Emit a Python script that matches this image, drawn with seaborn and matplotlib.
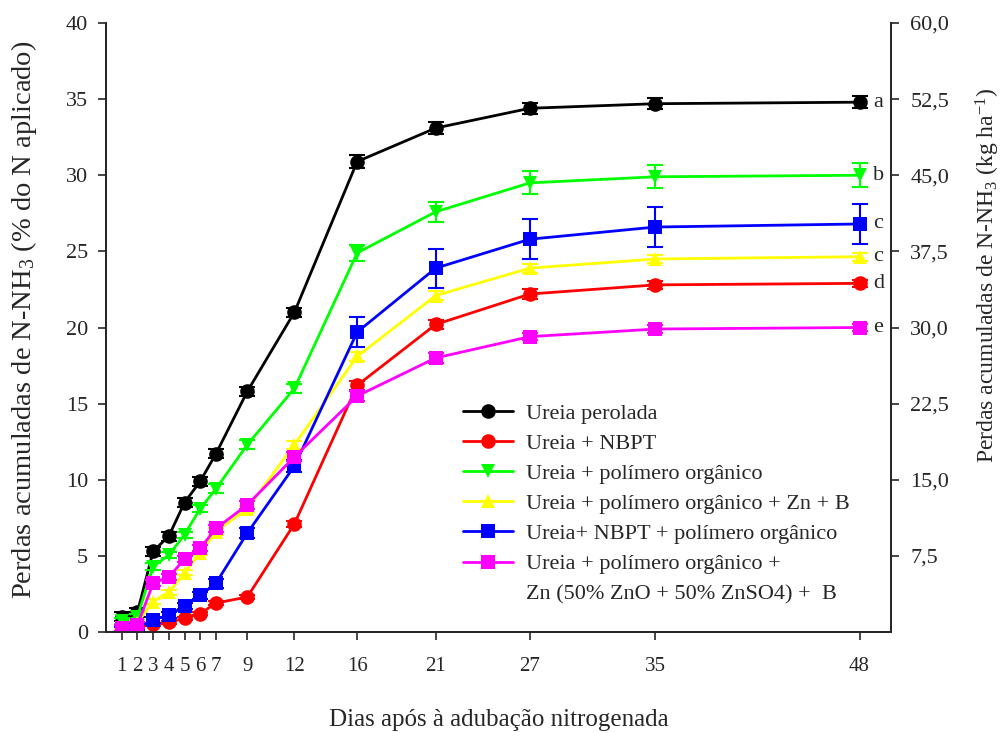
import matplotlib
matplotlib.use("Agg")
import matplotlib.pyplot as plt
import seaborn as sns
import pandas as pd
import numpy as np

# ---------------- data ----------------
days = [1, 2, 3, 4, 5, 6, 7, 9, 12, 16, 21, 27, 35, 48]

perolada = [1.0, 1.3, 5.3, 6.3, 8.5, 9.9, 11.7, 15.8, 21.0, 30.9, 33.1, 34.4, 34.7, 34.8]
perolada_err = [0.3, 0.3, 0.3, 0.3, 0.3, 0.3, 0.3, 0.3, 0.3, 0.45, 0.4, 0.35, 0.35, 0.4]

nbpt = [0.15, 0.4, 0.5, 0.65, 0.9, 1.2, 1.9, 2.3, 7.1, 16.2, 20.2, 22.2, 22.8, 22.9]
nbpt_err = [0.1, 0.1, 0.1, 0.1, 0.1, 0.1, 0.15, 0.15, 0.2, 0.3, 0.3, 0.3, 0.25, 0.25]

polimero = [0.7, 1.0, 4.3, 5.05, 6.4, 8.1, 9.4, 12.3, 16.0, 24.9, 27.6, 29.5, 29.9, 30.0]
polimero_err = [0.2, 0.2, 0.2, 0.2, 0.2, 0.25, 0.3, 0.3, 0.3, 0.55, 0.67, 0.75, 0.75, 0.8]

pol_znb = [0.3, 0.6, 2.0, 2.6, 3.9, 5.2, 6.6, 8.1, 12.3, 18.1, 22.1, 23.9, 24.5, 24.65]
pol_znb_err = [0.1, 0.1, 0.15, 0.15, 0.15, 0.15, 0.2, 0.2, 0.25, 0.3, 0.3, 0.3, 0.25, 0.25]

nbpt_pol = [0.1, 0.3, 0.8, 1.1, 1.7, 2.4, 3.2, 6.5, 10.9, 19.7, 23.9, 25.8, 26.6, 26.8]
nbpt_pol_err = [0.2, 0.2, 0.2, 0.2, 0.2, 0.25, 0.3, 0.35, 0.4, 1.0, 1.28, 1.3, 1.3, 1.3]

pol_zno = [0.25, 0.45, 3.2, 3.6, 4.8, 5.5, 6.8, 8.35, 11.5, 15.5, 18.0, 19.4, 19.9, 20.0]
pol_zno_err = [0.2, 0.2, 0.2, 0.2, 0.2, 0.2, 0.2, 0.25, 0.3, 0.3, 0.3, 0.25, 0.25, 0.25]

labels = [
    "Ureia perolada",
    "Ureia + NBPT",
    "Ureia + polímero orgânico",
    "Ureia + polímero orgânico + Zn + B",
    "Ureia+ NBPT + polímero orgânico",
    "Ureia + polímero orgânico +",
]
last_label_line2 = "Zn (50% ZnO + 50% ZnSO4) +  B"
values = [perolada, nbpt, polimero, pol_znb, nbpt_pol, pol_zno]
errors = [perolada_err, nbpt_err, polimero_err, pol_znb_err, nbpt_pol_err, pol_zno_err]
colors = ["#000000", "#FF0000", "#00FF00", "#FFFF00", "#0000FF", "#FF00FF"]
markers = ["o", "o", "v", "^", "s", "s"]
letters = ["a", "d", "b", "c", "c", "e"]

x_ticks = [1, 2, 3, 4, 5, 6, 7, 9, 12, 16, 21, 27, 35, 48]
left_ticks = [0, 5, 10, 15, 20, 25, 30, 35, 40]
right_ticks = [7.5, 15.0, 22.5, 30.0, 37.5, 45.0, 52.5, 60.0]

# ---------------- style ----------------
sns.set_style("ticks")
plt.rcParams["font.family"] = ["Liberation Serif", "DejaVu Serif"]
plt.rcParams["mathtext.fontset"] = "custom"
plt.rcParams["mathtext.rm"] = "Liberation Serif"
plt.rcParams["mathtext.it"] = "Liberation Serif:italic"
plt.rcParams["axes.linewidth"] = 1.3

fig = plt.figure(figsize=(10.05, 7.33), dpi=100)
ax = fig.add_axes([0.1055, 0.1378, 0.781, 0.8308])

rows = []
for lab, vals in zip(labels, values):
    for d, v in zip(days, vals):
        rows.append({"dia": d, "valor": v, "serie": lab})
df = pd.DataFrame(rows)

for i, (lab, vals, errs) in enumerate(zip(labels, values, errors)):
    sub = df[df["serie"] == lab]
    ax.errorbar(days, vals, yerr=errs, fmt="none", ecolor=colors[i],
                elinewidth=1.5, capsize=5.5, capthick=1.5, zorder=2 + i)
    sns.lineplot(data=sub, x="dia", y="valor", ax=ax, color=colors[i],
                 marker=markers[i], markersize=10.5, markeredgewidth=0,
                 linewidth=2.0, label=lab, zorder=3 + i, legend=False)

for i, vals in enumerate(values):
    ax.text(48.85, vals[-1], letters[i], fontsize=16, va="center", ha="left")

ax.set_xlim(0, 50)
ax.set_ylim(0, 40)
ax.set_xticks(x_ticks)
ax.set_xticklabels([str(t) for t in x_ticks])
ax.set_yticks(left_ticks)
ax.tick_params(axis="both", direction="out", length=6, width=1.2, labelsize=16)
ax.tick_params(axis="x", pad=12, labelsize=15)
ax.tick_params(axis="y", pad=7)
ax.set_xlabel("Dias após à adubação nitrogenada", fontsize=18)
ax.xaxis.set_label_coords(0.5006, -0.127)
ax.set_ylabel("Perdas acumuladas de N-NH$_3$ (% do N aplicado)", fontsize=20.5)
ax.yaxis.set_label_coords(-0.085, 0.512)
ax.spines["top"].set_visible(False)

ax2 = ax.twinx()
ax2.set_ylim(0, 60)
ax2.set_yticks(right_ticks)
ax2.set_yticklabels([f"{t:.1f}".replace(".", ",") for t in right_ticks])
ax2.tick_params(axis="y", direction="out", length=6, width=1.2, labelsize=16, pad=8)
ax2.set_ylabel("Perdas acumuladas de N-NH$_3$ (kg ha$^{-1}$)", fontsize=17)
ax2.yaxis.set_label_coords(1.106, 0.585)
ax2.spines["top"].set_visible(False)

handles, labs = ax.get_legend_handles_labels()
leg = ax.legend(handles, labs, loc="upper left", bbox_to_anchor=(0.452, 0.462),
                bbox_transform=fig.transFigure, frameon=False, fontsize=16,
                handlelength=2.25, handletextpad=0.6, labelspacing=0.43,
                borderaxespad=0)

fig.canvas.draw()
last_txt = leg.get_texts()[-1]
bb = last_txt.get_window_extent().transformed(fig.transFigure.inverted())
fig.text(bb.x0, bb.y0 - 30 / 733, last_label_line2, fontsize=16,
         ha="left", va="bottom")

fig.savefig("out.png", dpi=100)
